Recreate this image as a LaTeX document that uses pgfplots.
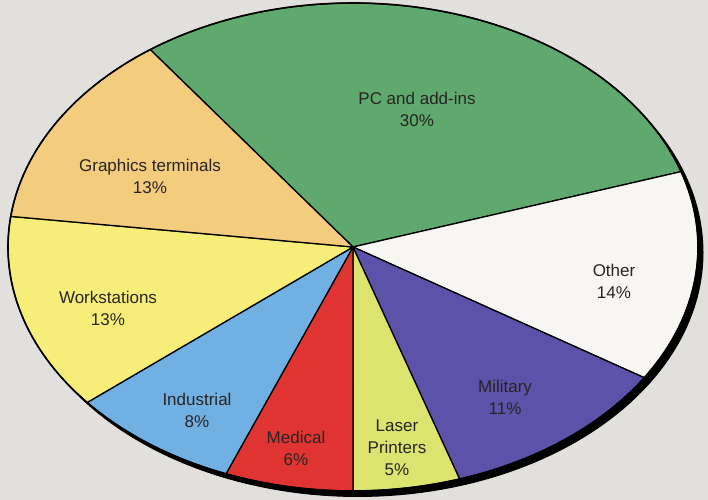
\documentclass[border=0pt]{standalone}
\usepackage{pgfplots}
\pgfplotsset{compat=1.18}
\usepackage{pgfplotstable}
\usepackage{fontspec}
\setmainfont{Liberation Sans}
\definecolor{bgc}{RGB}{226,224,220}
\definecolor{cPC}{RGB}{95,168,110}
\definecolor{cOther}{RGB}{248,246,242}
\definecolor{cMil}{RGB}{92,82,170}
\definecolor{cLaser}{RGB}{220,228,112}
\definecolor{cMed}{RGB}{224,52,50}
\definecolor{cInd}{RGB}{112,176,226}
\definecolor{cWork}{RGB}{246,238,120}
\definecolor{cGraph}{RGB}{243,204,126}
\definecolor{txt}{RGB}{40,36,36}
% shares in percent, clockwise from "PC and add-ins"
\pgfplotstableread{
pct
30
14
11
5
6
8
13
13
}\piedata
\begin{document}
\begin{tikzpicture}
\begin{axis}[
  width=708bp, height=500bp, scale only axis,
  xmin=0, xmax=708, ymin=0, ymax=500,
  hide axis, clip=true,
]
\fill[bgc] (rel axis cs:0,0) rectangle (rel axis cs:1,1);
% drop edge of the disc
\addplot[fill=black, draw=black, line width=1pt, domain=0:360, samples=200]
  ({358+345*cos(x)}, {247.5+244*sin(x)}) -- cycle;
\xdef\startang{126}
\foreach \i/\c in {0/cPC,1/cOther,2/cMil,3/cLaser,4/cMed,5/cInd,6/cWork,7/cGraph}{
  \pgfplotstablegetelem{\i}{pct}\of\piedata
  \pgfmathsetmacro\endang{\startang-3.6*\pgfplotsretval}
  \edef\cmd{\noexpand\addplot[fill=\c, draw=black, line width=1.3pt, line join=round,
     domain=\endang:\startang, samples=80]
     ({353+345*cos(x)}, {253+244*sin(x)}) -- (axis cs:353,253) -- cycle;}
  \cmd
  \xdef\startang{\endang}
}
\addplot[draw=black, line width=1.6pt, domain=0:360, samples=240]
  ({353+345*cos(x)}, {253+244*sin(x)}) -- cycle;
\begin{scope}[every node/.style={align=center, text=txt, font=\fontsize{17bp}{22bp}\selectfont}]
\node at (axis cs:417,391) {PC and add-ins\\30\%};
\node at (axis cs:150,324) {Graphics terminals\\13\%};
\node at (axis cs:108,192) {Workstations\\13\%};
\node at (axis cs:197,90) {Industrial\\8\%};
\node at (axis cs:296,52) {Medical\\6\%};
\node at (axis cs:397,52) {Laser\\Printers\\5\%};
\node at (axis cs:505,103) {Military\\11\%};
\node at (axis cs:614,219) {Other\\14\%};
\end{scope}
\end{axis}
\end{tikzpicture}
\end{document}
